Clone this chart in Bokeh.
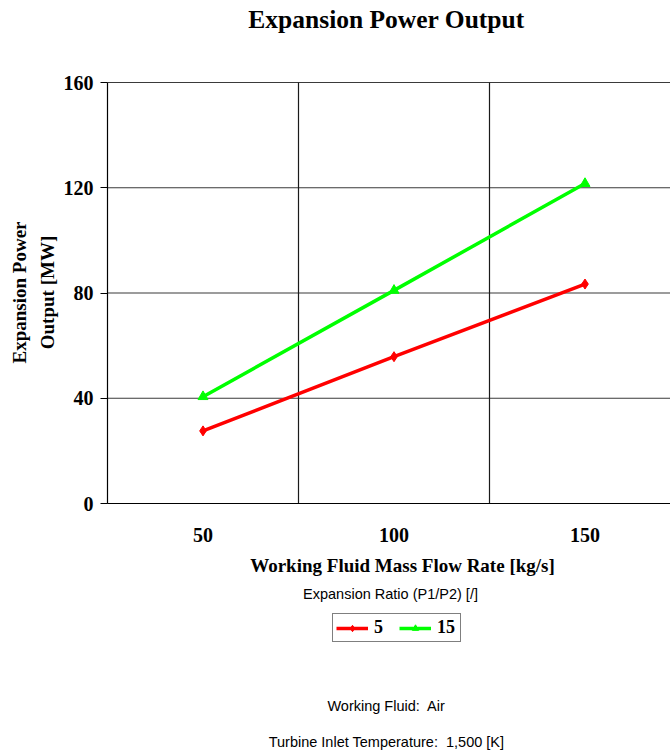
import math
from bokeh.plotting import figure
from bokeh.models import Range1d, FixedTicker, Label, Legend, LegendItem
from bokeh.embed import file_html
from bokeh.resources import INLINE

flow_rate = [50, 100, 150]
power_ratio_5 = [27.6, 55.8, 83.4]
power_ratio_15 = [40.6, 81.0, 121.6]
y_ticks = [0, 40, 80, 120, 160]
series_names = ["5", "15"]

SERIF = "Liberation Serif"
SANS = "Liberation Sans"

W, H = 670, 753
# plot-area geometry in canvas pixels (style, not data)
PX_LEFT, PX_BOTTOM, PX_TOP = 107, 503, 82
half = (flow_rate[1] - flow_rate[0]) / 2
x_lo, x_hi = flow_rate[0] - half, flow_rate[-1] + half
y_lo, y_hi = y_ticks[0], y_ticks[-1]
sx = 573 / (x_hi - x_lo)                 # px per x unit
sy = (PX_BOTTOM - PX_TOP) / (y_hi - y_lo)  # px per y unit

def dx(px):
    return x_lo + (px - PX_LEFT) / sx

def dy(py):
    return y_lo + (PX_BOTTOM - py) / sy

p = figure(width=W, height=H, output_backend="svg", toolbar_location=None,
           x_range=Range1d(dx(0), dx(W)), y_range=Range1d(dy(H), dy(0)),
           min_border_left=0, min_border_right=0, min_border_top=0, min_border_bottom=0)
p.outline_line_color = None
p.background_fill_color = "white"
p.border_fill_color = "white"
p.xgrid.visible = False
p.ygrid.visible = False

# x axis drawn at y = 0
p.xaxis.fixed_location = y_lo
p.xaxis.bounds = (x_lo, x_hi)
p.xaxis.ticker = FixedTicker(ticks=flow_rate)
p.xaxis.major_tick_out = 0
p.xaxis.major_tick_in = 0
p.xaxis.minor_tick_line_color = None
p.xaxis.axis_line_color = "black"
p.xaxis.axis_line_width = 1.2
p.xaxis.major_label_text_font = SERIF
p.xaxis.major_label_text_font_size = "20px"
p.xaxis.major_label_text_font_style = "bold"
p.xaxis.major_label_text_color = "black"
p.xaxis.major_label_standoff = 24

# y axis drawn at left edge of plot area
p.yaxis.fixed_location = x_lo
p.yaxis.bounds = (y_lo, y_hi)
p.yaxis.ticker = FixedTicker(ticks=y_ticks)
p.yaxis.major_tick_out = 7
p.yaxis.major_tick_in = 0
p.yaxis.major_tick_line_color = "black"
p.yaxis.minor_tick_line_color = None
p.yaxis.axis_line_color = "black"
p.yaxis.axis_line_width = 1.2
p.yaxis.major_label_text_font = SERIF
p.yaxis.major_label_text_font_size = "20px"
p.yaxis.major_label_text_font_style = "bold"
p.yaxis.major_label_text_color = "black"
p.yaxis.major_label_standoff = 7

# grid lines limited to the plot area
cat_bounds = [(a + b) / 2 for a, b in zip(flow_rate[:-1], flow_rate[1:])]
p.segment(x0=[x_lo] * len(y_ticks), y0=y_ticks, x1=[x_hi] * len(y_ticks), y1=y_ticks,
          line_color="#3a3a3a", line_width=1.2)
p.segment(x0=cat_bounds, y0=[y_lo] * len(cat_bounds),
          x1=cat_bounds, y1=[y_hi] * len(cat_bounds),
          line_color="#1a1a1a", line_width=1.2)

# series
l5 = p.line(flow_rate, power_ratio_5, line_color="#ff0000", line_width=3.5)
m5 = p.scatter(flow_rate, power_ratio_5, marker="diamond", size=10,
               fill_color="#ff0000", line_color="#ff0000")
l15 = p.line(flow_rate, power_ratio_15, line_color="#00ff00", line_width=3.5)
m15 = p.scatter(flow_rate, power_ratio_15, marker="triangle", size=10,
                fill_color="#00ff00", line_color="#00ff00")

legend = Legend(items=[LegendItem(label=series_names[0], renderers=[l5, m5]),
                       LegendItem(label=series_names[1], renderers=[l15, m15])],
                orientation="horizontal", location=(332, H - 642),
                border_line_color="black", border_line_width=1,
                background_fill_alpha=1, padding=3, spacing=5, margin=0,
                glyph_width=32, glyph_height=16, label_height=16, label_standoff=6,
                label_text_font=SERIF, label_text_font_size="18px",
                label_text_font_style="bold", label_text_color="black")
p.add_layout(legend, "center")

def add_text(txt, px, py, font, size, bold, angle=0.0, line_height=1.2):
    p.add_layout(Label(x=dx(px), y=dy(py), text=txt, text_align="center",
                       text_baseline="middle", angle=angle,
                       text_font=font, text_font_size=size,
                       text_font_style="bold" if bold else "normal",
                       text_color="black", text_line_height=line_height))

add_text("Expansion Power Output", 386, 19, SERIF, "25.5px", True)
add_text("Expansion Power\nOutput [MW]", 33, 292, SERIF, "19px", True,
         angle=math.pi / 2, line_height=1.3)
add_text("Working Fluid Mass Flow Rate [kg/s]", 402, 565, SERIF, "19px", True)
add_text("Expansion Ratio (P1/P2) [/]", 390, 593, SANS, "14.5px", False)
add_text("Working Fluid:\u00a0 Air", 386, 705, SANS, "14.5px", False)
add_text("Turbine Inlet Temperature:\u00a0 1,500 [K]", 386, 741, SANS, "14.5px", False)

open("out.html", "w").write(file_html(p, INLINE))
